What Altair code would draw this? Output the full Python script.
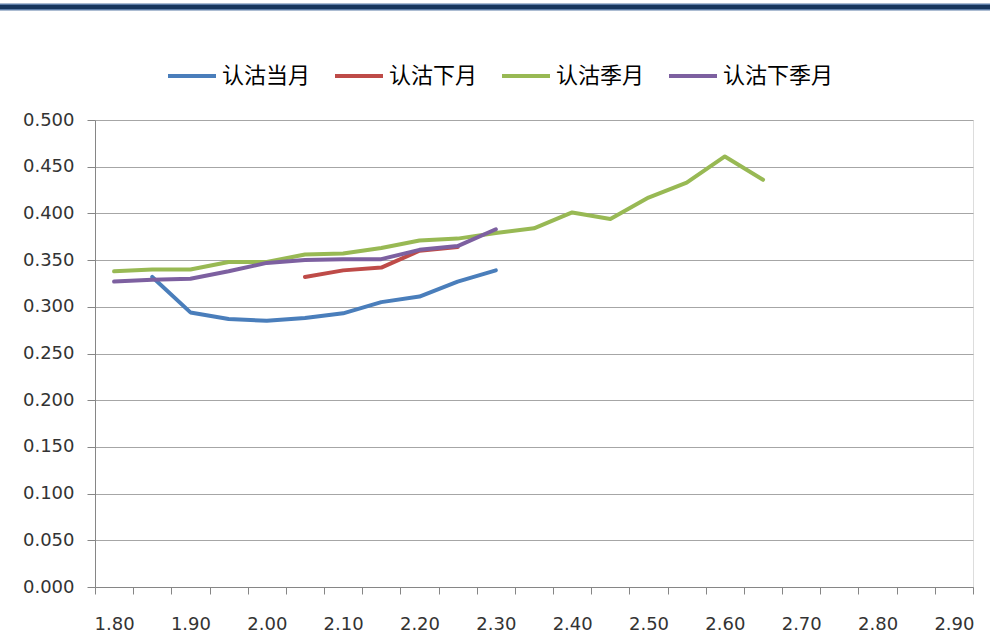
import altair as alt
import pandas as pd

categories = ["1.80", "1.85", "1.90", "1.95", "2.00", "2.05", "2.10", "2.15", "2.20",
              "2.25", "2.30", "2.35", "2.40", "2.45", "2.50", "2.55", "2.60", "2.65",
              "2.70", "2.75", "2.80", "2.85", "2.90"]

series_names = ["认沽当月", "认沽下月", "认沽季月", "认沽下季月"]
series_colors = ["#4A7EBB", "#BE4B48", "#98B954", "#7D60A0"]

put_current = [None, 0.332, 0.294, 0.287, 0.285, 0.288, 0.293, 0.305, 0.311, 0.327, 0.339]
put_next = [None, None, None, None, None, 0.332, 0.339, 0.342, 0.360, 0.364]
put_quarter = [0.338, 0.340, 0.340, 0.348, 0.348, 0.356, 0.357, 0.363, 0.371, 0.373,
               0.379, 0.384, 0.401, 0.394, 0.417, 0.433, 0.461, 0.436]
put_next_quarter = [0.327, 0.329, 0.330, 0.338, 0.347, 0.350, 0.351, 0.351, 0.361, 0.365, 0.383]

y_ticks = [0.0, 0.05, 0.10, 0.15, 0.20, 0.25, 0.30, 0.35, 0.40, 0.45, 0.50]

rows = []
for name, vals in zip(series_names, [put_current, put_next, put_quarter, put_next_quarter]):
    for cat, v in zip(categories, vals):
        if v is not None:
            rows.append({"cat": cat, "value": v, "series": name})
df = pd.DataFrame(rows)

label_font = "DejaVu Sans"

lines = alt.Chart(df).mark_line(strokeWidth=4, strokeCap="round", strokeJoin="round").encode(
    x=alt.X("cat:O",
            scale=alt.Scale(type="band", domain=categories, paddingInner=0, paddingOuter=0),
            sort=categories,
            axis=alt.Axis(title=None, tickBand="extent", tickSize=7, labelAngle=0,
                          labelPadding=21,
                          labelExpr="round(toNumber(datum.value)*100) % 10 == 0 ? datum.label : ''",
                          domainColor="#868686", tickColor="#868686", grid=False,
                          labelFont=label_font, labelFontSize=18, labelColor="#333333")),
    y=alt.Y("value:Q",
            scale=alt.Scale(domain=[0, 0.5], nice=False, zero=True),
            axis=alt.Axis(title=None, values=y_ticks, format=".3f", tickSize=8, labelPadding=13,
                          grid=True, gridColor="#A6A6A6", domainColor="#868686",
                          tickColor="#868686", labelFont=label_font, labelFontSize=18,
                          labelColor="#333333")),
    color=alt.Color("series:N",
                    scale=alt.Scale(domain=series_names, range=series_colors),
                    legend=alt.Legend(title=None, orient="none", legendX=71, legendY=-70,
                                      direction="horizontal", symbolType="stroke",
                                      symbolStrokeWidth=4, symbolSize=2304,
                                      labelFont="Noto Sans CJK SC", labelFontSize=22,
                                      labelColor="#000000", labelOffset=4, columnPadding=16)),
    order=alt.value(0),
)

band = pd.DataFrame({"k": [0]})
top_outer = alt.Chart(band).mark_rule(color="#5B7BA5", strokeWidth=7).encode(
    x=alt.value(-95), x2=alt.value(895), y=alt.value(-113))
top_inner = alt.Chart(band).mark_rule(color="#17365D", strokeWidth=4).encode(
    x=alt.value(-95), x2=alt.value(895), y=alt.value(-113))

chart = alt.layer(top_outer, top_inner, lines).properties(
    width=878, height=467,
    autosize=alt.AutoSizeParams(type="none"),
    padding={"left": 95, "top": 120, "right": 17, "bottom": 50},
).configure_view(stroke=None).configure(background="white")

chart.save("out.html", embed_options={"renderer": "svg", "actions": False})
